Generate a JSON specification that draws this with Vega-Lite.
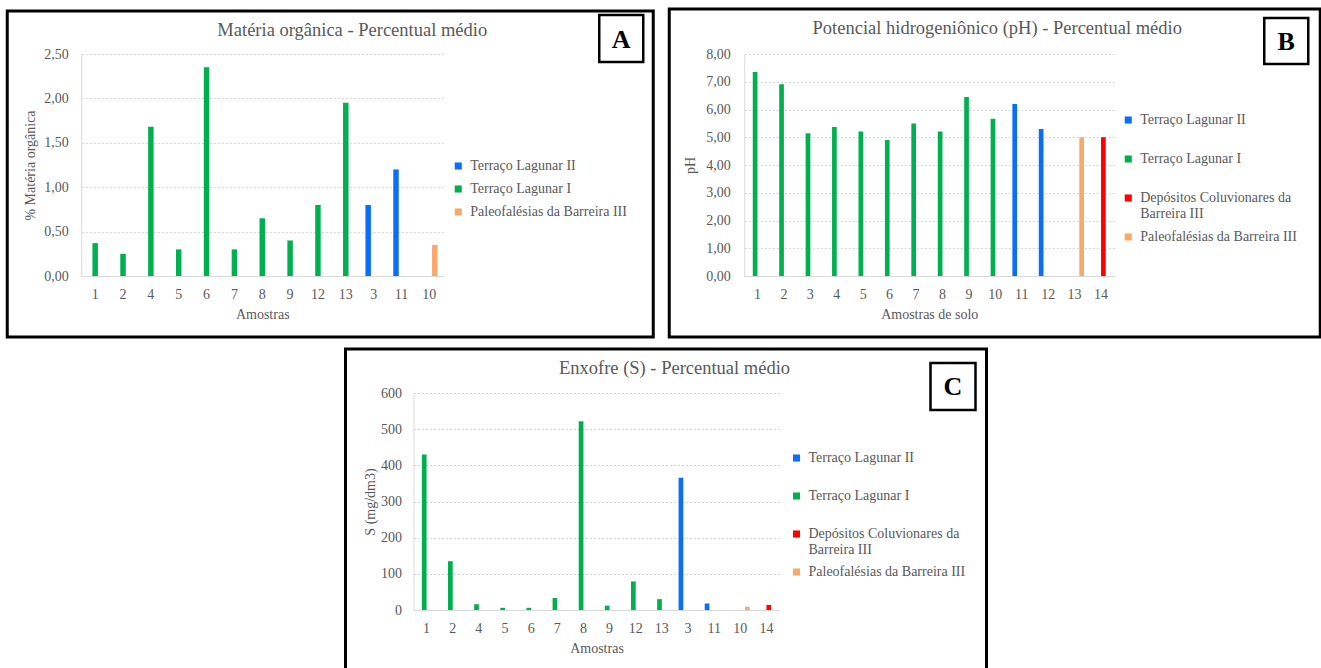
{
  "$schema": "https://vega.github.io/schema/vega-lite/v6.json",
  "padding": {"left": -13, "top": 7, "right": 0, "bottom": 0},
  "background": "white",
  "datasets": {
    "mo": [
      {"amostra": "1", "grupo": "Terraço Lagunar I", "valor": 0.37},
      {"amostra": "2", "grupo": "Terraço Lagunar I", "valor": 0.25},
      {"amostra": "4", "grupo": "Terraço Lagunar I", "valor": 1.68},
      {"amostra": "5", "grupo": "Terraço Lagunar I", "valor": 0.30},
      {"amostra": "6", "grupo": "Terraço Lagunar I", "valor": 2.35},
      {"amostra": "7", "grupo": "Terraço Lagunar I", "valor": 0.30},
      {"amostra": "8", "grupo": "Terraço Lagunar I", "valor": 0.65},
      {"amostra": "9", "grupo": "Terraço Lagunar I", "valor": 0.40},
      {"amostra": "12", "grupo": "Terraço Lagunar I", "valor": 0.80},
      {"amostra": "13", "grupo": "Terraço Lagunar I", "valor": 1.95},
      {"amostra": "3", "grupo": "Terraço Lagunar II", "valor": 0.80},
      {"amostra": "11", "grupo": "Terraço Lagunar II", "valor": 1.20},
      {"amostra": "10", "grupo": "Paleofalésias da Barreira III", "valor": 0.35}
    ],
    "ph": [
      {"amostra": "1", "grupo": "Terraço Lagunar I", "valor": 7.35},
      {"amostra": "2", "grupo": "Terraço Lagunar I", "valor": 6.91},
      {"amostra": "3", "grupo": "Terraço Lagunar I", "valor": 5.14},
      {"amostra": "4", "grupo": "Terraço Lagunar I", "valor": 5.37},
      {"amostra": "5", "grupo": "Terraço Lagunar I", "valor": 5.21},
      {"amostra": "6", "grupo": "Terraço Lagunar I", "valor": 4.90},
      {"amostra": "7", "grupo": "Terraço Lagunar I", "valor": 5.50},
      {"amostra": "8", "grupo": "Terraço Lagunar I", "valor": 5.21},
      {"amostra": "9", "grupo": "Terraço Lagunar I", "valor": 6.45},
      {"amostra": "10", "grupo": "Terraço Lagunar I", "valor": 5.67},
      {"amostra": "11", "grupo": "Terraço Lagunar II", "valor": 6.20},
      {"amostra": "12", "grupo": "Terraço Lagunar II", "valor": 5.30},
      {"amostra": "13", "grupo": "Paleofalésias da Barreira III", "valor": 5.00},
      {"amostra": "14", "grupo": "Depósitos Coluvionares da Barreira III", "valor": 5.00}
    ],
    "s": [
      {"amostra": "1", "grupo": "Terraço Lagunar I", "valor": 430},
      {"amostra": "2", "grupo": "Terraço Lagunar I", "valor": 135},
      {"amostra": "4", "grupo": "Terraço Lagunar I", "valor": 16},
      {"amostra": "5", "grupo": "Terraço Lagunar I", "valor": 6},
      {"amostra": "6", "grupo": "Terraço Lagunar I", "valor": 6},
      {"amostra": "7", "grupo": "Terraço Lagunar I", "valor": 33},
      {"amostra": "8", "grupo": "Terraço Lagunar I", "valor": 522},
      {"amostra": "9", "grupo": "Terraço Lagunar I", "valor": 12},
      {"amostra": "12", "grupo": "Terraço Lagunar I", "valor": 79},
      {"amostra": "13", "grupo": "Terraço Lagunar I", "valor": 30},
      {"amostra": "3", "grupo": "Terraço Lagunar II", "valor": 366},
      {"amostra": "11", "grupo": "Terraço Lagunar II", "valor": 18},
      {"amostra": "10", "grupo": "Paleofalésias da Barreira III", "valor": 9},
      {"amostra": "14", "grupo": "Depósitos Coluvionares da Barreira III", "valor": 14}
    ],
    "one": [{"k": 1}]
  },
  "config": {
    "locale": {"number": {"decimal": ",", "thousands": ".", "grouping": [3], "currency": ["", ""]}},
    "view": {"stroke": null},
    "font": "Liberation Serif",
    "axis": {
      "labelFont": "Liberation Serif", "labelFontSize": 14, "labelColor": "#595959",
      "titleFont": "Liberation Serif", "titleFontSize": 14, "titleFontWeight": "normal", "titleColor": "#595959",
      "ticks": false, "domainColor": "#d9d9d9", "gridColor": "#d4d4d4", "gridDash": [2, 2]
    },
    "axisX": {"grid": false, "labelAngle": 0, "labelPadding": 11, "titlePadding": 6},
    "axisY": {"grid": true, "labelPadding": 13, "titlePadding": 6},
    "legend": {
      "orient": "none", "title": null, "symbolType": "square", "symbolSize": 50, "symbolStrokeWidth": 0,
      "labelFont": "Liberation Serif", "labelFontSize": 14, "labelColor": "#595959",
      "labelOffset": 5, "labelLimit": 400, "padding": 0, "rowPadding": 9
    },
    "title": {"font": "Liberation Serif", "fontSize": 18.5, "fontWeight": "normal", "color": "#595959", "anchor": "middle", "frame": "group", "baseline": "middle"}
  },
  "spacing": 8,
  "center": true,
  "resolve": {"scale": {"color": "independent", "xOffset": "independent", "x": "independent", "y": "independent"}, "legend": {"color": "independent"}},
  "vconcat": [
    {
      "spacing": 12,
      "resolve": {"scale": {"color": "independent", "xOffset": "independent", "x": "independent", "y": "independent"}, "legend": {"color": "independent"}},
      "hconcat": [
        {
          "width": 362, "height": 222,
          "title": {"text": "Matéria orgânica - Percentual médio", "dx": 90, "offset": -29.5},
          "layer": [
            {
              "data": {"name": "one"},
              "mark": {"type": "rect", "fill": "white"},
              "encoding": {"x": {"value": -93.5}, "x2": {"value": -93}, "y": {"value": 0}, "y2": {"value": 1}}
            },
            {
              "data": {"name": "one"},
              "mark": {"type": "rect", "fill": "transparent", "stroke": "black", "strokeWidth": 3},
              "encoding": {"x": {"value": -74}, "x2": {"value": 572}, "y": {"value": -43}, "y2": {"value": 283}}
            },
            {
              "data": {"name": "one"},
              "mark": {"type": "rect", "fill": "white", "stroke": "black", "strokeWidth": 2.5},
              "encoding": {"x": {"value": 518}, "x2": {"value": 562}, "y": {"value": -39}, "y2": {"value": 8}}
            },
            {
              "data": {"name": "one"},
              "mark": {"type": "text", "text": "A", "font": "Liberation Serif", "fontSize": 26, "fontWeight": "bold", "color": "black", "align": "center", "baseline": "middle"},
              "encoding": {"x": {"value": 540}, "y": {"value": -14}}
            },
            {
              "data": {"name": "mo"},
              "mark": {"type": "bar"},
              "encoding": {
                "x": {"field": "amostra", "type": "nominal", "sort": null, "scale": {"paddingInner": 0.41, "paddingOuter": 0.205}, "axis": {"title": "Amostras", "labelFont": "Liberation Serif"}},
                "xOffset": {"field": "grupo", "type": "nominal", "scale": {"domain": ["Terraço Lagunar II", "Terraço Lagunar I", "Paleofalésias da Barreira III"]}},
                "y": {"field": "valor", "type": "quantitative", "scale": {"domain": [0, 2.5]}, "axis": {"title": "% Matéria orgânica", "labelFont": "Liberation Serif", "values": [0, 0.5, 1, 1.5, 2, 2.5], "format": ".2f", "titlePadding": 6}},
                "color": {
                  "field": "grupo", "type": "nominal",
                  "scale": {"domain": ["Terraço Lagunar II", "Terraço Lagunar I", "Paleofalésias da Barreira III"], "range": ["#0A6EFA", "#00B050", "#F8A96A"]},
                  "legend": {"legendX": 370, "legendY": 105, "rowPadding": 9}
                }
              }
            }
          ]
        },
        {
          "width": 370, "height": 222,
          "title": {"text": "Potencial hidrogeniônico (pH) - Percentual médio", "dx": 68, "offset": -29.5},
          "layer": [
            {
              "data": {"name": "one"},
              "mark": {"type": "rect", "fill": "transparent", "stroke": "black", "strokeWidth": 3},
              "encoding": {"x": {"value": -75}, "x2": {"value": 576}, "y": {"value": -45}, "y2": {"value": 283}}
            },
            {
              "data": {"name": "one"},
              "mark": {"type": "rect", "fill": "white", "stroke": "black", "strokeWidth": 2.5},
              "encoding": {"x": {"value": 520}, "x2": {"value": 564}, "y": {"value": -36}, "y2": {"value": 10}}
            },
            {
              "data": {"name": "one"},
              "mark": {"type": "text", "text": "B", "font": "Liberation Serif", "fontSize": 26, "fontWeight": "bold", "color": "black", "align": "center", "baseline": "middle"},
              "encoding": {"x": {"value": 542}, "y": {"value": -12}}
            },
            {
              "data": {"name": "ph"},
              "mark": {"type": "bar"},
              "encoding": {
                "x": {"field": "amostra", "type": "nominal", "sort": null, "scale": {"paddingInner": 0.29, "paddingOuter": 0.145}, "axis": {"title": "Amostras de solo", "labelFont": "Liberation Serif"}},
                "xOffset": {"field": "grupo", "type": "nominal", "scale": {"domain": ["Terraço Lagunar II", "Terraço Lagunar I", "Depósitos Coluvionares da Barreira III", "Paleofalésias da Barreira III"]}},
                "y": {"field": "valor", "type": "quantitative", "scale": {"domain": [0, 8]}, "axis": {"title": "pH", "labelFont": "Liberation Serif", "values": [0, 1, 2, 3, 4, 5, 6, 7, 8], "format": ".2f", "labelPadding": 14, "titlePadding": 8}},
                "color": {
                  "field": "grupo", "type": "nominal",
                  "scale": {"domain": ["Terraço Lagunar II", "Terraço Lagunar I", "Depósitos Coluvionares da Barreira III", "Paleofalésias da Barreira III"], "range": ["#0A6EFA", "#00B050", "#FF0000", "#F8A96A"]},
                  "legend": {"legendX": 377, "legendY": 59, "rowPadding": 9, "gridAlign": "all",
                    "labelExpr": "datum.label == 'Depósitos Coluvionares da Barreira III' ? ['Depósitos Coluvionares da', 'Barreira III'] : datum.label"}
                }
              }
            }
          ]
        }
      ]
    },
    {
      "width": 366, "height": 217,
      "title": {"text": "Enxofre (S) - Percentual médio", "dx": 78, "offset": -29.5},
      "layer": [
        {
          "data": {"name": "one"},
          "mark": {"type": "rule", "strokeWidth": 3, "color": "black"},
          "encoding": {"x": {"value": -68}, "y": {"value": -44}, "y2": {"value": 276}}
        },
        {
          "data": {"name": "one"},
          "mark": {"type": "rule", "strokeWidth": 3, "color": "black"},
          "encoding": {"x": {"value": 573}, "y": {"value": -44}, "y2": {"value": 276}}
        },
        {
          "data": {"name": "one"},
          "mark": {"type": "rule", "strokeWidth": 3, "color": "black"},
          "encoding": {"x": {"value": -69.5}, "x2": {"value": 574.5}, "y": {"value": -44}}
        },
        {
          "data": {"name": "one"},
          "mark": {"type": "rect", "fill": "white", "stroke": "black", "strokeWidth": 2.5},
          "encoding": {"x": {"value": 517}, "x2": {"value": 562}, "y": {"value": -30}, "y2": {"value": 17}}
        },
        {
          "data": {"name": "one"},
          "mark": {"type": "text", "text": "C", "font": "Liberation Serif", "fontSize": 26, "fontWeight": "bold", "color": "black", "align": "center", "baseline": "middle"},
          "encoding": {"x": {"value": 539.5}, "y": {"value": -6}}
        },
        {
          "data": {"name": "s"},
          "mark": {"type": "bar"},
          "encoding": {
            "x": {"field": "amostra", "type": "nominal", "sort": null, "scale": {"paddingInner": 0.28, "paddingOuter": 0.14}, "axis": {"title": "Amostras", "labelFont": "Liberation Serif"}},
            "xOffset": {"field": "grupo", "type": "nominal", "scale": {"domain": ["Terraço Lagunar II", "Terraço Lagunar I", "Depósitos Coluvionares da Barreira III", "Paleofalésias da Barreira III"]}},
            "y": {"field": "valor", "type": "quantitative", "scale": {"domain": [0, 600]}, "axis": {"title": "S (mg/dm3)", "labelFont": "Liberation Serif", "values": [0, 100, 200, 300, 400, 500, 600], "format": "d", "labelPadding": 12, "titlePadding": 3}},
            "color": {
              "field": "grupo", "type": "nominal",
              "scale": {"domain": ["Terraço Lagunar II", "Terraço Lagunar I", "Depósitos Coluvionares da Barreira III", "Paleofalésias da Barreira III"], "range": ["#0A6EFA", "#00B050", "#FF0000", "#F8A96A"]},
              "legend": {"legendX": 376, "legendY": 58, "rowPadding": 8, "gridAlign": "all",
                "labelExpr": "datum.label == 'Depósitos Coluvionares da Barreira III' ? ['Depósitos Coluvionares da', 'Barreira III'] : datum.label"}
            }
          }
        }
      ]
    }
  ]
}
